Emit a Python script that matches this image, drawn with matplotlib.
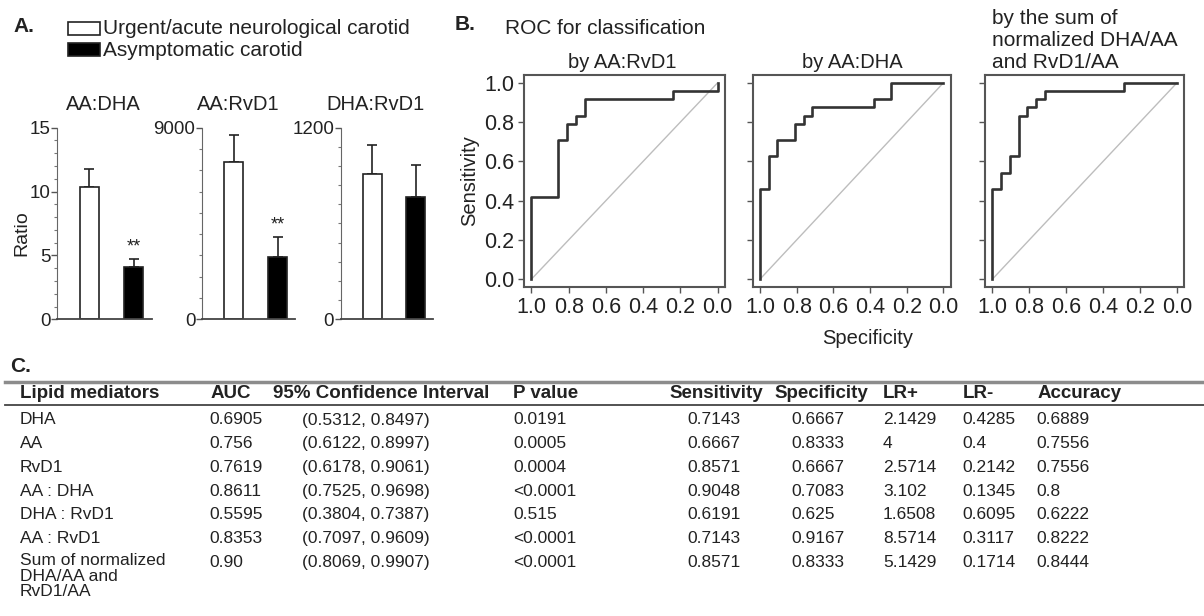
import numpy as np
import matplotlib
matplotlib.use("Agg")
import matplotlib.pyplot as plt
from matplotlib.patches import Rectangle
from matplotlib.ticker import MultipleLocator

plt.rcParams["font.family"] = ["Liberation Sans", "DejaVu Sans"]

W, H = 1204, 616
INK = "#222222"

# ---- panel A data ----
groups = ["Urgent/acute neurological carotid", "Asymptomatic carotid"]
ratio_names = ["AA:DHA", "AA:RvD1", "DHA:RvD1"]
urgent_mean = [10.33, 7370, 908]
urgent_err = [1.41, 1280, 183]
asym_mean = [4.12, 2940, 767]
asym_err = [0.60, 910, 199]
ratio_max = [15, 9000, 1200]
ratio_major = [[0, 5, 10, 15], [0, 9000], [0, 1200]]
ratio_minor = [1, 1000, 120]
stars = ["**", "**", ""]

# ---- panel B data (ROC corner points, steps-post) ----
roc_titles = ["by AA:RvD1", "by AA:DHA"]
roc_spec = [
    [1.0, 1.0, 0.857, 0.810, 0.762, 0.714, 0.238, 0.0],
    [1.0, 1.0, 0.952, 0.905, 0.810, 0.762, 0.714, 0.381, 0.286, 0.0],
    [1.0, 1.0, 0.952, 0.905, 0.857, 0.810, 0.762, 0.714, 0.286, 0.0],
]
roc_sens = [
    [0.0, 0.417, 0.708, 0.792, 0.833, 0.917, 0.958, 1.0],
    [0.0, 0.458, 0.625, 0.708, 0.792, 0.833, 0.875, 0.917, 1.0, 1.0],
    [0.0, 0.458, 0.542, 0.625, 0.833, 0.875, 0.917, 0.958, 1.0, 1.0],
]
roc_ticks = [1.0, 0.8, 0.6, 0.4, 0.2, 0.0]

# ---- panel C data ----
headers = ["Lipid mediators", "AUC", "95% Confidence Interval", "P value",
           "Sensitivity", "Specificity", "LR+", "LR-", "Accuracy"]
names = ["DHA", "AA", "RvD1", "AA : DHA", "DHA : RvD1", "AA : RvD1",
         "Sum of normalized\nDHA/AA and\nRvD1/AA"]
auc = ["0.6905", "0.756", "0.7619", "0.8611", "0.5595", "0.8353", "0.90"]
ci = ["(0.5312, 0.8497)", "(0.6122, 0.8997)", "(0.6178, 0.9061)", "(0.7525, 0.9698)",
      "(0.3804, 0.7387)", "(0.7097, 0.9609)", "(0.8069, 0.9907)"]
pval = ["0.0191", "0.0005", "0.0004", "<0.0001", "0.515", "<0.0001", "<0.0001"]
sens = ["0.7143", "0.6667", "0.8571", "0.9048", "0.6191", "0.7143", "0.8571"]
spec = ["0.6667", "0.8333", "0.6667", "0.7083", "0.625", "0.9167", "0.8333"]
lr_pos = ["2.1429", "4", "2.5714", "3.102", "1.6508", "8.5714", "5.1429"]
lr_neg = ["0.4285", "0.4", "0.2142", "0.1345", "0.6095", "0.3117", "0.1714"]
accuracy = ["0.6889", "0.7556", "0.7556", "0.8", "0.6222", "0.8222", "0.8444"]


def box(x0, y0, x1, y1):
    # pixel box (origin top-left) -> figure fraction rect
    return [x0 / W, 1 - y1 / H, (x1 - x0) / W, (y1 - y0) / H]


fig = plt.figure(figsize=(W / 100, H / 100), dpi=100)

# overlay axes in pixel units for free text, legend boxes and the table
ov = fig.add_axes([0, 0, 1, 1])
ov.set_xlim(0, W)
ov.set_ylim(H, 0)
ov.axis("off")

# ---------------- A ----------------
ov.text(13, 27, "A.", fontsize=15, fontweight="bold", va="center", color=INK)
ov.add_patch(Rectangle((68, 21.7), 32, 13.3, facecolor="white", edgecolor=INK, lw=1.2))
ov.add_patch(Rectangle((68, 43), 32, 13, facecolor="black", edgecolor=INK, lw=1.2))
ov.text(103, 28, groups[0], fontsize=15, va="center", color=INK)
ov.text(103, 50, groups[1], fontsize=15, va="center", color=INK)
ov.text(22, 233, "Ratio", fontsize=14, rotation=90, ha="center", va="center", color=INK)

a_boxes = [(57.3, 151.7), (202.3, 295), (341, 433)]
a_title_x = [103, 238, 375]
for i, (x0, x1) in enumerate(a_boxes):
    ax = fig.add_axes(box(x0, 127.7, x1, 319.3))
    ax.bar([0, 1], [urgent_mean[i], asym_mean[i]], width=0.43,
           color=["white", "black"], edgecolor=INK, lw=1.2, zorder=2)
    ax.errorbar([0, 1], [urgent_mean[i], asym_mean[i]],
                yerr=[[0, 0], [urgent_err[i], asym_err[i]]], fmt="none",
                ecolor=INK, elinewidth=1.2, capsize=3.5, capthick=1.2, zorder=1)
    if stars[i]:
        ax.annotate(stars[i], (1, asym_mean[i] + asym_err[i]), xytext=(0, 9),
                    textcoords="offset points", ha="center", va="center",
                    fontsize=13, color=INK)
    ax.set_xlim(-0.72, 1.4)
    ax.set_ylim(0, ratio_max[i])
    ax.set_xticks([])
    ax.set_yticks(ratio_major[i])
    ax.yaxis.set_minor_locator(MultipleLocator(ratio_minor[i]))
    ax.tick_params(axis="y", which="major", labelsize=13.5, length=4, width=1,
                   colors="#555555", labelcolor=INK, pad=1)
    ax.tick_params(axis="y", which="minor", length=2.5, width=0.8, colors="#777777")
    for s in ["top", "right"]:
        ax.spines[s].set_visible(False)
    ax.spines["left"].set_color("#666666")
    ax.spines["bottom"].set_color("#444444")
    ax.spines["bottom"].set_linewidth(1.3)
    ax.patch.set_alpha(0)
    ov.text(a_title_x[i], 105, ratio_names[i], fontsize=14.5, ha="center", va="center", color=INK)

# ---------------- B ----------------
ov.text(455, 25, "B.", fontsize=15, fontweight="bold", va="center", color=INK)
ov.text(505, 28, "ROC for classification", fontsize=15, va="center", color=INK)
ov.text(622, 62, roc_titles[0], fontsize=14.5, ha="center", va="center", color=INK)
ov.text(852, 62, roc_titles[1], fontsize=14.5, ha="center", va="center", color=INK)
for yy, line in zip([18, 40, 62], ["by the sum of", "normalized DHA/AA", "and RvD1/AA"]):
    ov.text(992, yy, line, fontsize=15, va="center", color=INK)
ov.text(470, 181, "Sensitivity", fontsize=14.5, rotation=90, ha="center", va="center", color=INK)
ov.text(868, 338, "Specificity", fontsize=14.5, ha="center", va="center", color=INK)

b_boxes = [(524, 725), (752.7, 950.7), (985, 1184.3)]
for i, (x0, x1) in enumerate(b_boxes):
    ax = fig.add_axes(box(x0, 75, x1, 287))
    ax.plot([1, 0], [0, 1], color="#bdbdbd", lw=1)
    ax.plot(roc_spec[i], roc_sens[i], drawstyle="steps-post", color="#333333", lw=1.9)
    ax.set_xlim(1.04, -0.04)
    ax.set_ylim(-0.04, 1.04)
    ax.set_xticks(roc_ticks)
    ax.set_xticklabels([f"{t:.1f}" for t in roc_ticks])
    ax.set_yticks(roc_ticks)
    if i == 0:
        ax.set_yticklabels([f"{t:.1f}" for t in roc_ticks])
    else:
        ax.set_yticklabels([])
    ax.tick_params(labelsize=15.5, length=4, width=1, colors="#555555",
                   labelcolor=INK, pad=3)
    for s in ax.spines.values():
        s.set_color("#555555")
        s.set_linewidth(1.5)
    ax.patch.set_alpha(0)

# ---------------- C ----------------
ov.text(10, 367, "C.", fontsize=15, fontweight="bold", va="center", color=INK)
ov.plot([5, W], [382, 382], color="#8c8c8c", lw=2.5)
ov.plot([5, W], [405, 405], color="#444444", lw=1.3)

head_x = [20, 210.7, 272.7, 513, 669, 774, 883, 963, 1038]
val_x = [20, 209, 301.7, 513, 687, 791.7, 883, 962, 1036.7]
for hx, h in zip(head_x, headers):
    ov.text(hx, 393, h, fontsize=13.5, fontweight="bold", va="center", color=INK)

columns = [names, auc, ci, pval, sens, spec, lr_pos, lr_neg, accuracy]
row_y = 420 + 23.7 * np.arange(len(names))
for cx, col in zip(val_x, columns):
    for ry, val in zip(row_y, col):
        if "\n" in val:
            ov.text(cx, ry - 9, val, fontsize=12.5, va="top", linespacing=1.05, color=INK)
        else:
            ov.text(cx, ry, val, fontsize=12.5, va="center", color=INK)

fig.savefig("out.png", dpi=100)
